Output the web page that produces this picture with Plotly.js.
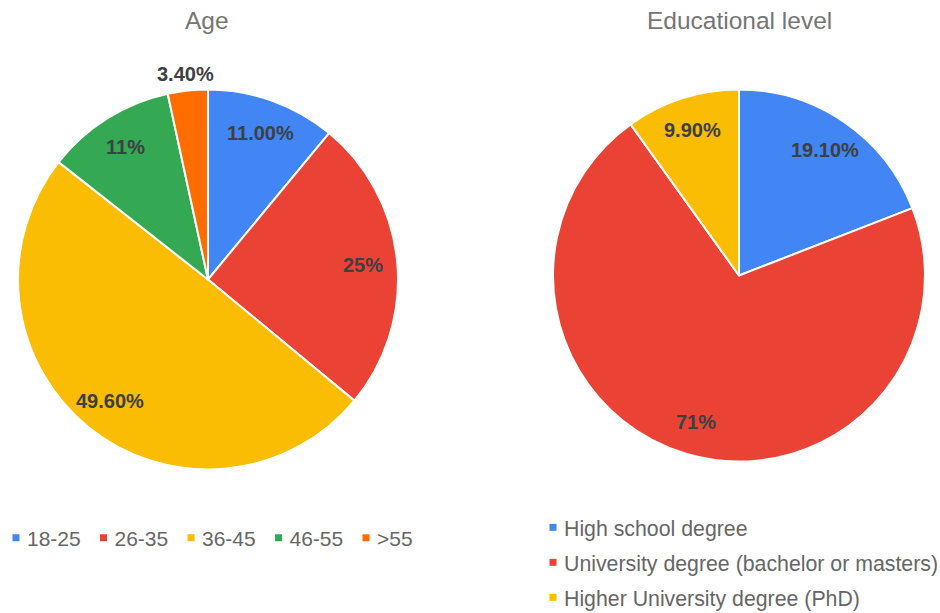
<!DOCTYPE html>
<html>
<head>
<meta charset="utf-8">
<script src="https://cdn.plot.ly/plotly-3.0.1.min.js"></script>
<style>
html,body{margin:0;padding:0;background:#fff;}
#chart{width:940px;height:613px;}
path.legendpie{d:path("M12.5,3.5H5.5V-3.5H12.5Z");stroke-width:0 !important;}
</style>
</head>
<body>
<div id="chart"></div>
<script>
var ageLabels = ["18-25", "26-35", "36-45", "46-55", ">55"];
var ageValues = [11.0, 25, 49.6, 11, 3.4];
var ageText = ["11.00%", "25%", "49.60%", "11%", "3.40%"];
var ageColors = ["#4285F4", "#EA4335", "#FBBC04", "#34A853", "#FF6D01"];

var eduLabels = ["High school degree", "University degree (bachelor or masters)", "Higher University degree (PhD)"];
var eduValues = [19.1, 71, 9.9];
var eduText = ["19.10%", "71%", "9.90%"];
var eduColors = ["#4285F4", "#EA4335", "#FBBC04"];

var W = 940, H = 613;
var FONT = "Liberation Sans, Arial, sans-serif";
var labelFont = {family: FONT, size: 20, color: "#3c4043", weight: "bold"};

var ageDomain = {x: [18/W, 398/W], y: [143/H, 524/H]};
var eduDomain = {x: [553/W, 925/W], y: [150/H, 525/H]};

// slice labels placed along each slice's mid-angle (clockwise from 12 o'clock)
function sliceLabels(values, texts, dom) {
  var x0 = dom.x[0]*W, x1 = dom.x[1]*W;
  var yt = (1-dom.y[1])*H, yb = (1-dom.y[0])*H;
  var cx = (x0+x1)/2, cy = (yt+yb)/2, r = Math.min(x1-x0, yb-yt)/2;
  var total = values.reduce(function(a,b){return a+b;}, 0);
  var cum = 0, out = [];
  values.forEach(function(v, i) {
    var share = v/total;
    var mid = (cum + v/2)/total*2*Math.PI;
    cum += v;
    var f = share < 0.05 ? 1.09 : 0.82;
    var px = cx + Math.sin(mid)*r*f, py = cy - Math.cos(mid)*r*f;
    out.push({text: texts[i], x: px/W, y: 1 - py/H, xref: "paper", yref: "paper",
      xanchor: "center", yanchor: "middle", showarrow: false, font: labelFont});
  });
  return out;
}

var traces = [
  {
    type: "pie", labels: ageLabels, values: ageValues,
    textinfo: "none", sort: false, direction: "clockwise", rotation: 0,
    marker: {colors: ageColors, line: {color: "#ffffff", width: 2}},
    domain: ageDomain, hoverinfo: "none", legend: "legend"
  },
  {
    type: "pie", labels: eduLabels, values: eduValues,
    textinfo: "none", sort: false, direction: "clockwise", rotation: 0,
    marker: {colors: eduColors, line: {color: "#ffffff", width: 2}},
    domain: eduDomain, hoverinfo: "none", legend: "legend2"
  }
];

var titleFont = {family: FONT, size: 24.5, color: "#757575"};
var annotations = [
  {text: "Age", x: 207/W, y: 1 - 20/H, xref: "paper", yref: "paper",
   xanchor: "center", yanchor: "middle", showarrow: false, font: titleFont},
  {text: "Educational level", x: 739/W, y: 1 - 20/H, xref: "paper", yref: "paper",
   xanchor: "center", yanchor: "middle", showarrow: false, font: titleFont}
].concat(sliceLabels(ageValues, ageText, ageDomain), sliceLabels(eduValues, eduText, eduDomain));

var layout = {
  width: W, height: H,
  margin: {l: 0, r: 0, t: 0, b: 0, autoexpand: false},
  paper_bgcolor: "#ffffff",
  font: {family: FONT, color: "#666666"},
  showlegend: true,
  legend: {
    orientation: "h", x: -13/W, xanchor: "left", y: 1 - 538/H, yanchor: "middle",
    font: {family: FONT, size: 21, color: "#666666"},
    entrywidth: 42.5, entrywidthmode: "pixels", traceorder: "normal"
  },
  legend2: {
    orientation: "v", x: 524/W, xanchor: "left", y: 1 - 507/H, yanchor: "top",
    font: {family: FONT, size: 21.3, color: "#666666"}, traceorder: "normal"
  },
  annotations: annotations
};

Plotly.newPlot("chart", traces, layout, {displayModeBar: false, staticPlot: true}).then(function() {
  // spread the vertical legend's entries to the reference's 35px row pitch
  var lg = document.querySelector("g.legend2");
  if (!lg) return;
  var sb = lg.querySelector(".scrollbox");
  if (sb) sb.removeAttribute("clip-path");
  var items = lg.querySelectorAll("g.traces");
  var y0 = null;
  items.forEach(function(g, i) {
    var m = (g.getAttribute("transform") || "").match(/translate\(\s*([-\d.e]+)[ ,]+([-\d.e]+)\s*\)/);
    if (!m) return;
    if (y0 === null) y0 = parseFloat(m[2]);
    g.setAttribute("transform", "translate(" + m[1] + "," + (y0 + i*35) + ")");
  });
});
</script>
</body>
</html>
